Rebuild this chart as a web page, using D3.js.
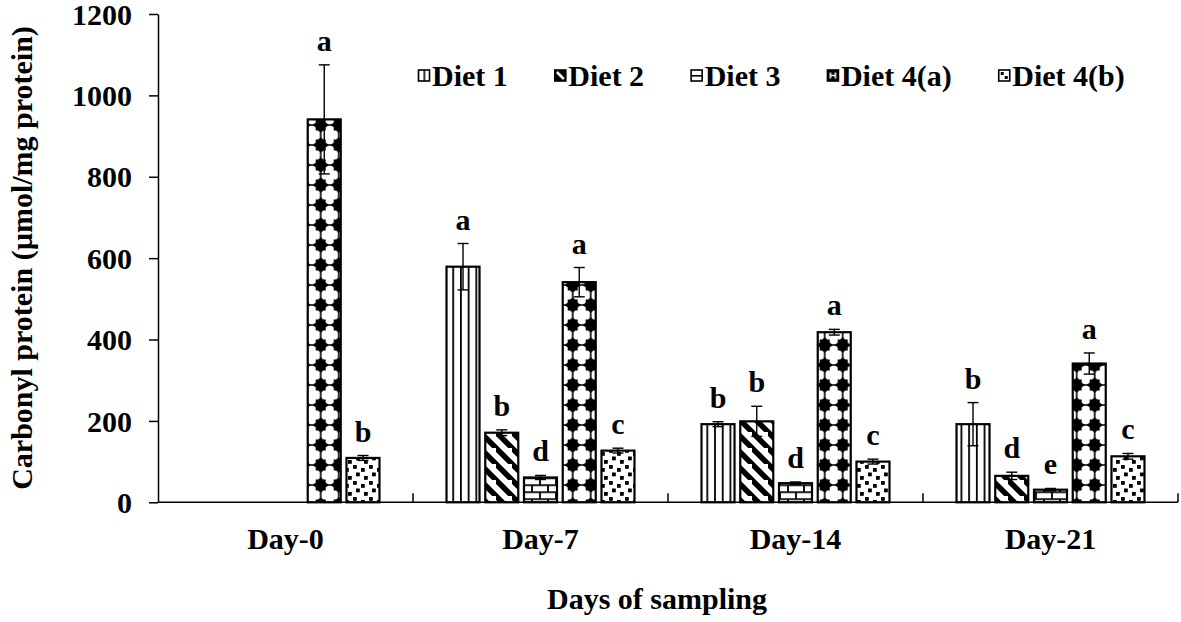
<!DOCTYPE html>
<html>
<head>
<meta charset="utf-8">
<script src="https://cdn.jsdelivr.net/npm/d3@7"></script>
<style>
  body { margin: 0; background: #fff; }
  svg { display: block; }
  text { font-family: "Liberation Serif", "Times New Roman", serif; font-weight: bold; fill: #000; }
</style>
</head>
<body>
<svg width="1181" height="622"></svg>
<script>
// categories and series
const days = ["Day-0", "Day-7", "Day-14", "Day-21"];
const diets = ["Diet 1", "Diet 2", "Diet 3", "Diet 4(a)", "Diet 4(b)"];

const diet1 = [null, 579, 192, 192];
const diet2 = [null, 171, 199, 65];
const diet3 = [null, 61, 47, 31];
const diet4a = [941, 541, 418, 341];
const diet4b = [109, 127, 100, 113];

const err1 = [null, 57, 6, 53];
const err2 = [null, 7, 37, 9];
const err3 = [null, 5, 3, 3];
const err4a = [134, 36, 7, 26];
const err4b = [6, 6, 6, 7];

const let1 = [null, "a", "b", "b"];
const let2 = [null, "b", "b", "d"];
const let3 = [null, "d", "d", "e"];
const let4a = ["a", "a", "a", "a"];
const let4b = ["b", "c", "c", "c"];

const yTicks = [0, 200, 400, 600, 800, 1000, 1200];

const values = [diet1, diet2, diet3, diet4a, diet4b];
const errors = [err1, err2, err3, err4a, err4b];
const letters = [let1, let2, let3, let4a, let4b];

const svg = d3.select("svg");
const width = +svg.attr("width");
const height = +svg.attr("height");

svg.append("rect").attr("width", width).attr("height", height).attr("fill", "#fff");

const x0 = d3.scaleBand().domain(days).range([158, 1178]);
const x1 = d3.scaleBand().domain(diets).range([0, x0.bandwidth()])
    .paddingInner(0.148).paddingOuter(0.865);
const y = d3.scaleLinear().domain([0, 1200]).range([502.3, 14]);

// ---- fill patterns ----
const defs = svg.append("defs");

// Diet 1: vertical lines
const p1 = defs.append("pattern").attr("id", "pat0").attr("patternUnits", "userSpaceOnUse")
    .attr("x", 452.3).attr("y", 0).attr("width", 7.7).attr("height", 10);
p1.append("rect").attr("width", 7.7).attr("height", 10).attr("fill", "#fff");
p1.append("line").attr("x1", 0.9).attr("x2", 0.9).attr("y1", 0).attr("y2", 10)
    .attr("stroke", "#000").attr("stroke-width", 1.8);

// Diet 2: wide downward diagonal
const p2 = defs.append("pattern").attr("id", "pat1").attr("patternUnits", "userSpaceOnUse")
    .attr("width", 16).attr("height", 16);
p2.append("rect").attr("width", 16).attr("height", 16).attr("fill", "#fff");
p2.append("path").attr("d", "M-4,-4L20,20M-12,4L4,20M12,-12L28,4")
    .attr("stroke", "#000").attr("stroke-width", 5.5);

// Diet 3: horizontal brick
const p3 = defs.append("pattern").attr("id", "pat2").attr("patternUnits", "userSpaceOnUse")
    .attr("x", 0).attr("y", 484.3).attr("width", 16).attr("height", 14);
p3.append("rect").attr("width", 16).attr("height", 14).attr("fill", "#fff");
p3.append("path").attr("d", "M0,0.8H16M0,7.8H16M4,0V7M12,7V14")
    .attr("stroke", "#000").attr("stroke-width", 1.8);

// Diet 4(a): black diamond blobs
const p4 = defs.append("pattern").attr("id", "pat3").attr("patternUnits", "userSpaceOnUse")
    .attr("x", 311.7).attr("y", 195).attr("width", 18).attr("height", 20);
p4.append("rect").attr("width", 18).attr("height", 20).attr("fill", "#fff");
p4.append("path").attr("d", "M9,2L11.5,4.5L14,4.5L14,7.5L17,10L14,12.5L14,15.5L11.5,15.5L9,18L6.5,15.5L4,15.5L4,12.5L1,10L4,7.5L4,4.5L6.5,4.5Z")
    .attr("fill", "#000");
p4.append("path").attr("d", "M9,0V3M9,17V20M0,10H2M16,10H18").attr("stroke", "#000").attr("stroke-width", 1.6);

// Diet 4(b): confetti squares
const p5 = defs.append("pattern").attr("id", "pat4").attr("patternUnits", "userSpaceOnUse")
    .attr("width", 16).attr("height", 16);
p5.append("rect").attr("width", 16).attr("height", 16).attr("fill", "#fff");
[[1, 1], [9, 4], [4, 8.5], [12, 12]].forEach(s => {
    p5.append("rect").attr("x", s[0]).attr("y", s[1]).attr("width", 3.8).attr("height", 3.8).attr("fill", "#000");
});

// ---- bars ----
const bars = [];
diets.forEach((diet, s) => {
    days.forEach((day, i) => {
        if (values[s][i] != null) {
            bars.push({ day, diet, s, value: values[s][i], err: errors[s][i], letter: letters[s][i] });
        }
    });
});

const g = svg.append("g");

g.selectAll(".bar")
    .data(bars)
    .enter()
    .append("rect")
    .attr("class", "bar")
    .attr("x", d => x0(d.day) + x1(d.diet))
    .attr("y", d => y(d.value))
    .attr("width", x1.bandwidth())
    .attr("height", d => y(0) - y(d.value))
    .attr("fill", d => "url(#pat" + d.s + ")")
    .attr("stroke", "#000")
    .attr("stroke-width", 2.2);

// error bars
const capW = 11;
const eb = g.selectAll(".err").data(bars).enter().append("g").attr("class", "err")
    .attr("stroke", "#000").attr("stroke-width", 1.4);
eb.append("line")
    .attr("x1", d => x0(d.day) + x1(d.diet) + x1.bandwidth() / 2)
    .attr("x2", d => x0(d.day) + x1(d.diet) + x1.bandwidth() / 2)
    .attr("y1", d => y(d.value - d.err))
    .attr("y2", d => y(d.value + d.err));
[1, -1].forEach(sign => {
    eb.append("line")
        .attr("x1", d => x0(d.day) + x1(d.diet) + x1.bandwidth() / 2 - capW / 2)
        .attr("x2", d => x0(d.day) + x1(d.diet) + x1.bandwidth() / 2 + capW / 2)
        .attr("y1", d => y(d.value + sign * d.err))
        .attr("y2", d => y(d.value + sign * d.err));
});

// significance letters
g.selectAll(".letter")
    .data(bars)
    .enter()
    .append("text")
    .attr("class", "letter")
    .attr("x", d => x0(d.day) + x1(d.diet) + x1.bandwidth() / 2)
    .attr("y", d => y(d.value + d.err) - 14)
    .attr("text-anchor", "middle")
    .style("font-size", "30px")
    .text(d => d.letter);

// ---- axes ----
const yAxis = svg.append("g")
    .attr("transform", "translate(158,0)")
    .call(d3.axisLeft(y).tickValues(yTicks).tickFormat(d3.format("d"))
        .tickSize(9).tickSizeOuter(0).tickPadding(17));
yAxis.select(".domain").attr("stroke", "#000").attr("stroke-width", 1.5);
yAxis.selectAll(".tick line").attr("stroke", "#000").attr("stroke-width", 1.5);
yAxis.selectAll(".tick text")
    .style("font-family", "'Liberation Serif', serif")
    .style("font-weight", "bold")
    .style("font-size", "30px")
    .attr("dy", "0.34em")
    .attr("fill", "#000");

// x axis: baseline, boundary ticks pointing up, category labels
svg.append("line")
    .attr("x1", x0.range()[0]).attr("x2", x0.range()[1])
    .attr("y1", y(0)).attr("y2", y(0))
    .attr("stroke", "#000").attr("stroke-width", 1.5);

const bounds = days.map(d => x0(d)).concat([x0.range()[1]]);
svg.selectAll(".xtick")
    .data(bounds.slice(1))
    .enter()
    .append("line")
    .attr("class", "xtick")
    .attr("x1", d => d).attr("x2", d => d)
    .attr("y1", y(0)).attr("y2", y(0) - 9)
    .attr("stroke", "#000").attr("stroke-width", 1.5);

svg.selectAll(".xlabel")
    .data(days)
    .enter()
    .append("text")
    .attr("class", "xlabel")
    .attr("x", d => x0(d) + x0.bandwidth() / 2)
    .attr("y", 549)
    .attr("text-anchor", "middle")
    .style("font-size", "30px")
    .text(d => d);

// axis titles
svg.append("text")
    .attr("x", 657)
    .attr("y", 609)
    .attr("text-anchor", "middle")
    .style("font-size", "30px")
    .text("Days of sampling");

svg.append("text")
    .attr("transform", "translate(32,258) rotate(-90)")
    .attr("text-anchor", "middle")
    .style("font-size", "30px")
    .text("Carbonyl protein (µmol/mg protein)");

// ---- legend ----
const legend = svg.append("g");
let lx = 418.5;
const sq = 11;
const sqY = 70;
diets.forEach((diet, s) => {
    // small key pattern anchored on its own square
    const kp = defs.append("pattern").attr("id", "key" + s).attr("patternUnits", "userSpaceOnUse")
        .attr("x", lx).attr("y", sqY).attr("width", sq).attr("height", sq);
    if (s === 0) {
        kp.append("rect").attr("width", sq).attr("height", sq).attr("fill", "#fff");
        kp.append("rect").attr("x", 5).attr("y", 0).attr("width", 1.6).attr("height", sq).attr("fill", "#000");
    } else if (s === 1) {
        kp.append("rect").attr("width", sq).attr("height", sq).attr("fill", "#000");
        kp.append("path").attr("d", "M2,2L9,9").attr("stroke", "#fff").attr("stroke-width", 2.5);
    } else if (s === 2) {
        kp.append("rect").attr("width", sq).attr("height", sq).attr("fill", "#fff");
        kp.append("rect").attr("x", 0).attr("y", 5).attr("width", sq).attr("height", 1.6).attr("fill", "#000");
    } else if (s === 3) {
        kp.append("rect").attr("width", sq).attr("height", sq).attr("fill", "#000");
        kp.append("path").attr("d", "M3,2.5V8.5M8,2.5V8.5M3,5.5H8").attr("stroke", "#fff").attr("stroke-width", 1.6);
    } else {
        kp.append("rect").attr("width", sq).attr("height", sq).attr("fill", "#fff");
        kp.append("rect").attr("x", 2).attr("y", 2).attr("width", 3).attr("height", 3).attr("fill", "#000");
        kp.append("rect").attr("x", 6).attr("y", 6).attr("width", 3).attr("height", 3).attr("fill", "#000");
    }
    legend.append("rect")
        .attr("x", lx).attr("y", sqY)
        .attr("width", sq).attr("height", sq)
        .attr("fill", "url(#key" + s + ")")
        .attr("stroke", "#000").attr("stroke-width", 1.6);
    const t = legend.append("text")
        .attr("x", lx + sq + 2.5)
        .attr("y", 86)
        .style("font-size", "30px")
        .text(diet);
    lx = lx + sq + 2.5 + t.node().getComputedTextLength() + 47;
});
</script>
</body>
</html>
